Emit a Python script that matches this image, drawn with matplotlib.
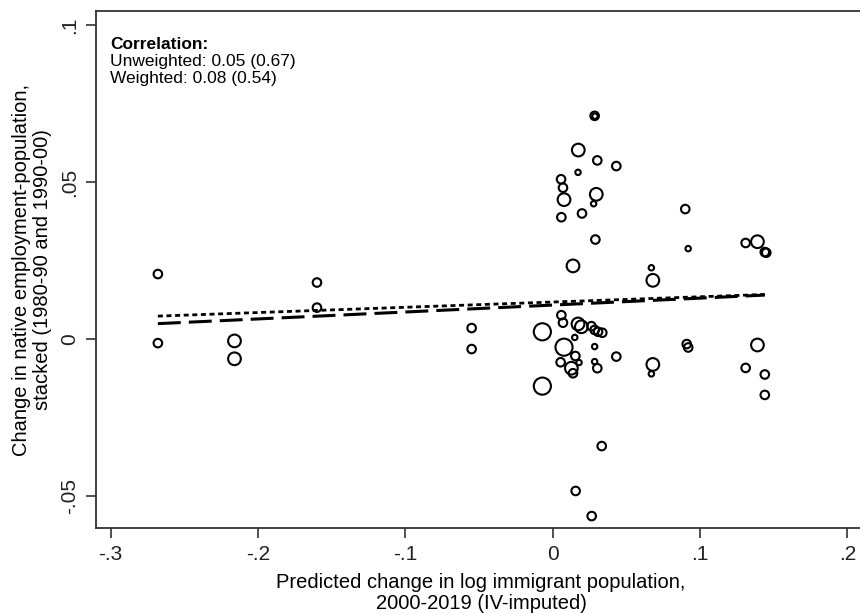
import numpy as np
from matplotlib import pyplot as plt

plt.rcParams['font.family'] = ['Liberation Sans', 'DejaVu Sans']
plt.rcParams['lines.scale_dashes'] = False

# predicted change in log immigrant population (x), change in emp-pop ratio (y),
# relative weight of each area (marker area)
left_x = [-0.268, -0.268, -0.216, -0.216, -0.160, -0.160, -0.055, -0.055]
left_y = [0.0207, -0.0013, -0.0006, -0.0063, 0.0180, 0.0100, 0.0035, -0.0032]
left_w = [1, 1, 2.2, 2.2, 1, 1, 1, 1]

mid_x = [0.0285, 0.0287, 0.0174, 0.0303, 0.0432, 0.0172, 0.0057, 0.0070, 0.0077,
         0.0296, 0.0278, 0.0059, 0.0199, 0.0290, 0.0138, 0.0059, 0.0070, -0.0070,
         0.0172, 0.0195, 0.0263, 0.0285, 0.0308, 0.0337, 0.0150, 0.0077, 0.0285,
         0.0432, 0.0154, 0.0054, 0.0179, 0.0127, 0.0138, 0.0285, 0.0303, -0.0070,
         0.0333, 0.0156, 0.0265]
mid_y = [0.0711, 0.0710, 0.0602, 0.0569, 0.0551, 0.0531, 0.0509, 0.0482, 0.0444,
         0.0461, 0.0431, 0.0388, 0.0400, 0.0317, 0.0233, 0.0076, 0.0052, 0.0023,
         0.0048, 0.0039, 0.0041, 0.0029, 0.0023, 0.0020, 0.0005, -0.0026, -0.0024,
         -0.0056, -0.0054, -0.0074, -0.0075, -0.0093, -0.0109, -0.0072, -0.0093, -0.0150,
         -0.0341, -0.0484, -0.0564]
mid_w = [1, 0.4, 2.2, 1, 1, 0.4, 1, 1, 2.2,
         2.2, 0.4, 1, 1, 1, 2.2, 1, 1, 4,
         2.2, 2.2, 1, 1, 1, 1, 0.4, 4, 0.4,
         1, 1, 1, 0.4, 2.2, 1, 0.4, 1, 4,
         1, 1, 1]

right_x = [0.090, 0.092, 0.067, 0.068, 0.131, 0.139, 0.144, 0.145,
           0.091, 0.092, 0.139, 0.068, 0.067, 0.131, 0.144, 0.144]
right_y = [0.0414, 0.0288, 0.0227, 0.0187, 0.0306, 0.0310, 0.0277, 0.0275,
           -0.0016, -0.0027, -0.0019, -0.0081, -0.0111, -0.0092, -0.0113, -0.0178]
right_w = [1, 0.4, 0.4, 2.2, 1, 2.2, 1, 1,
           1, 1, 2.2, 2.2, 0.4, 1, 1, 1]

# fitted lines, read at their end points
fit_x = [-0.268, 0.144]
unweighted_fit = [0.0073, 0.0142]
weighted_fit = [0.0049, 0.0140]

corr_lines = ['Unweighted: 0.05 (0.67)', 'Weighted: 0.08 (0.54)']

xs = np.array(left_x + mid_x + right_x)
ys = np.array(left_y + mid_y + right_y)
ws = np.array(left_w + mid_w + right_w)

fig = plt.figure(figsize=(8.6, 6.14), dpi=100)
ax = fig.add_axes([96 / 860, 86 / 614, 770 / 860, 517 / 614])

ax.scatter(xs, ys, s=38 * ws, facecolors='none', edgecolors='black', linewidths=1.5, zorder=3)
ax.plot(fit_x, unweighted_fit, color='black', lw=2.0, dashes=(3.6, 2.6), zorder=2)
ax.plot(fit_x, weighted_fit, color='black', lw=2.2, dashes=(16.5, 5.8), zorder=2)

ax.set_xlim(-0.31, 0.2127)
ax.set_ylim(-0.0602, 0.1045)
ax.set_xticks([-0.3, -0.2, -0.1, 0, 0.1, 0.2])
ax.set_xticklabels(['-.3', '-.2', '-.1', '0', '.1', '.2'])
ax.set_yticks([-0.05, 0, 0.05, 0.1])
ax.set_yticklabels(['-.05', '0', '.05', '.1'], rotation=90, va='center')
ax.tick_params(direction='out', length=7, width=1.1, labelsize=15, colors='#222222', pad=5)
for side in ['left', 'bottom', 'top']:
    ax.spines[side].set_linewidth(1.3)
    ax.spines[side].set_color('#333333')
ax.spines['right'].set_visible(False)

ax.set_xlabel('Predicted change in log immigrant population,\n2000-2019 (IV-imputed)',
              fontsize=14.5, linespacing=1.1, labelpad=7)
ax.set_ylabel('Change in native employment-population,\nstacked (1980-90 and 1990-00)',
              fontsize=14.5, linespacing=1.1, labelpad=6)

ax.text(0.018, 0.936, 'Correlation:', transform=ax.transAxes, fontsize=12.5,
        fontweight='bold', va='center')
for i, line in enumerate(corr_lines):
    ax.text(0.018, 0.903 - i * 0.033, line, transform=ax.transAxes, fontsize=12.5, va='center')

plt.savefig('out.png', dpi=100)
